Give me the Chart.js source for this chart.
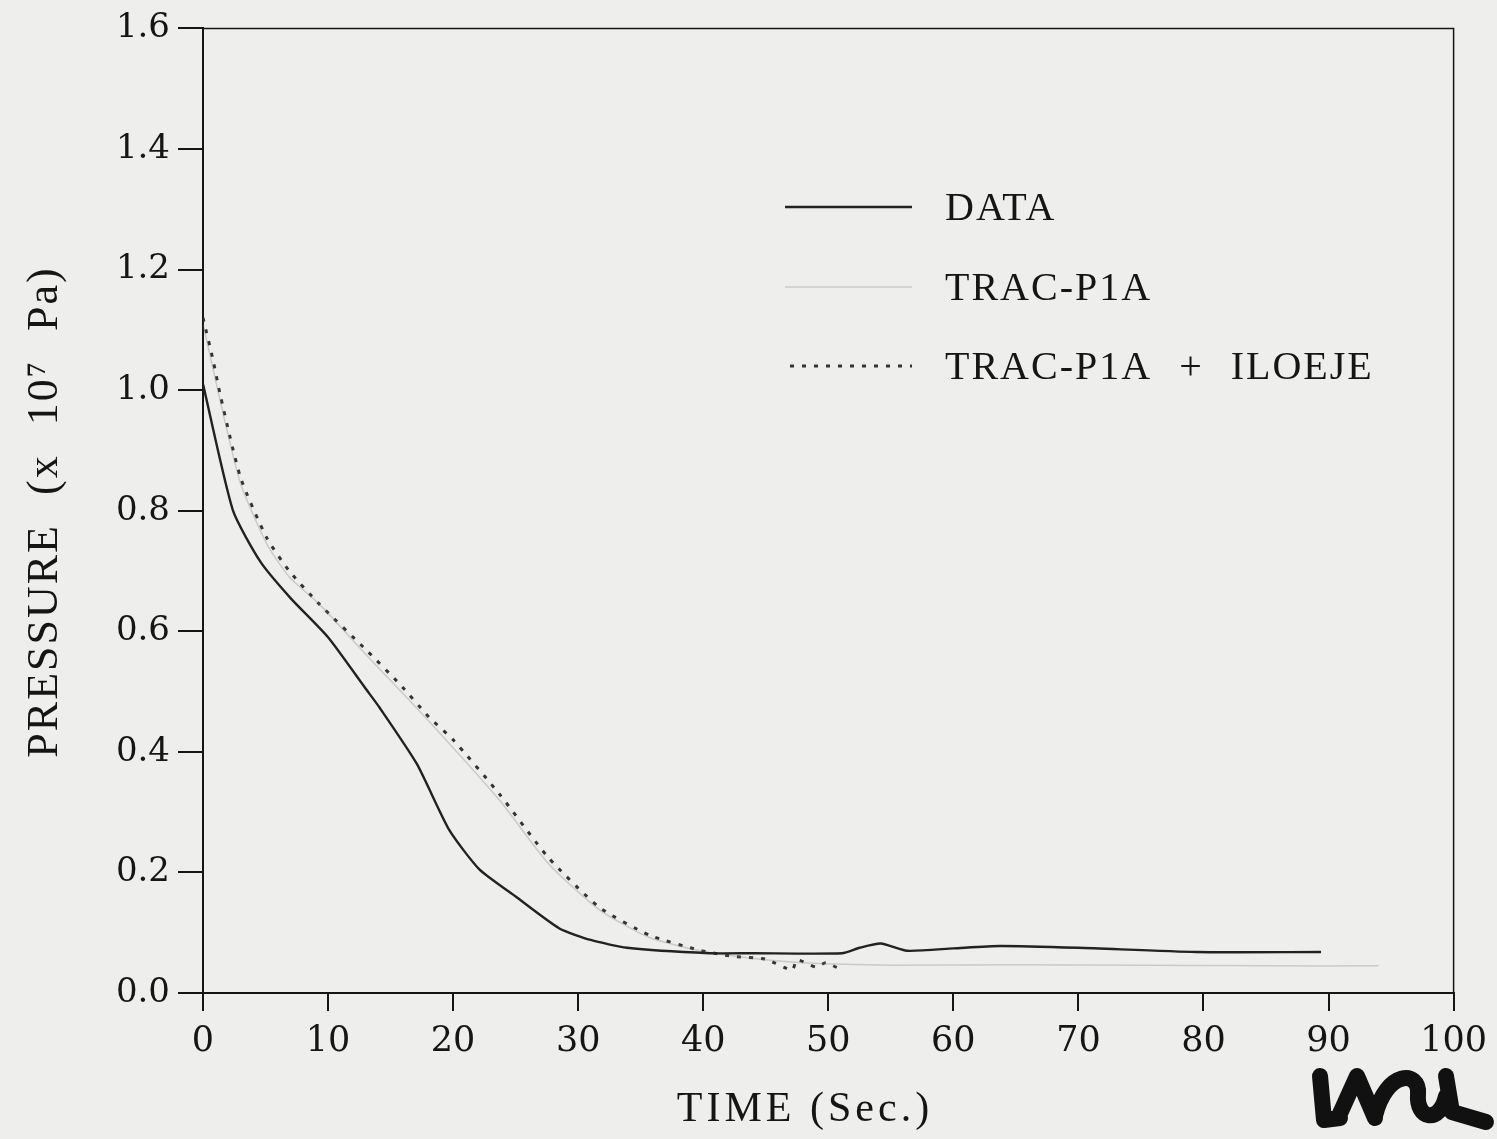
<!DOCTYPE html>
<html>
<head>
<meta charset="utf-8">
<script src="https://cdn.jsdelivr.net/npm/chart.js@4/dist/chart.umd.min.js"></script>
<style>
  html, body { margin: 0; padding: 0; background: #eeeeec; }
  #wrap { width: 1497px; height: 1139px; }
</style>
</head>
<body>
<div id="wrap"><canvas id="c" width="1497" height="1139"></canvas></div>
<script>
// Pressure vs time, blowdown comparison

// DATA (measured)
const dataTime = [0, 2.4, 4.6, 7, 10, 13, 14.1, 17.1, 19.7, 22.1, 25, 28.5, 31, 33.9, 40.5, 44, 51.1, 52.5, 54.2, 56.3, 60, 63.7, 70, 79.4, 89.4];
const dataPress = [1.01, 0.80, 0.715, 0.655, 0.59, 0.505, 0.474, 0.38, 0.27, 0.205, 0.16, 0.107, 0.088, 0.075, 0.066, 0.066, 0.066, 0.075, 0.082, 0.07, 0.074, 0.078, 0.075, 0.068, 0.068];

// TRAC-P1A (faint trace)
const p1aTime = [0, 1.4, 3, 5.1, 6.9, 9.3, 13.1, 18.1, 23.7, 27.6, 31.7, 35.7, 39.7, 43.7, 48, 55, 65, 75, 85, 94];
const p1aPress = [1.11, 0.98, 0.845, 0.745, 0.69, 0.645, 0.56, 0.45, 0.32, 0.215, 0.138, 0.092, 0.07, 0.058, 0.05, 0.046, 0.047, 0.046, 0.045, 0.045];

// TRAC-P1A + ILOEJE (dotted)
const ilTime = [0, 0.8, 1.4, 3, 5.1, 6.9, 9.3, 13.1, 15.7, 18.1, 20, 23.7, 27.6, 31.7, 35.7, 39.7, 42.3, 45, 47.1, 47.5, 49, 49.8, 50.9];
const ilPress = [1.12, 1.05, 0.99, 0.855, 0.755, 0.70, 0.645, 0.568, 0.513, 0.457, 0.42, 0.33, 0.225, 0.142, 0.096, 0.071, 0.061, 0.056, 0.038, 0.055, 0.043, 0.05, 0.04];

const seriesNames = ['DATA', 'TRAC-P1A', 'TRAC-P1A + ILOEJE'];
const xTicks = [0, 10, 20, 30, 40, 50, 60, 70, 80, 90, 100];
const yTicks = [0, 0.2, 0.4, 0.6, 0.8, 1.0, 1.2, 1.4, 1.6];

const ink = '#151515';
const serif = '"DejaVu Serif", "Liberation Serif", serif';
const roman = '"Liberation Serif", "Times New Roman", serif';

function pts(t, p) { return t.map((x, i) => ({ x, y: p[i] })); }

// box, legend, titles and logo
const decor = {
  id: 'decor',
  afterDraw(chart) {
    const ctx = chart.ctx;
    const a = chart.chartArea;
    ctx.save();
    ctx.strokeStyle = ink;
    ctx.lineWidth = 1.5;
    ctx.beginPath();
    ctx.moveTo(a.left, a.top); ctx.lineTo(a.right, a.top); ctx.lineTo(a.right, a.bottom);
    ctx.stroke();

    // legend
    const rows = [207, 287, 366];
    chart.data.datasets.forEach((ds, i) => {
      ctx.strokeStyle = ds.borderColor;
      ctx.lineWidth = ds.borderWidth;
      ctx.setLineDash(ds.borderDash || []);
      ctx.beginPath();
      ctx.moveTo(i === 2 ? 790 : 785, rows[i]);
      ctx.lineTo(912, rows[i]);
      ctx.stroke();
      ctx.setLineDash([]);
      ctx.fillStyle = ink;
      ctx.font = '40px ' + roman;
      ctx.letterSpacing = '2px';
      ctx.wordSpacing = '15px';
      ctx.textAlign = 'left';
      ctx.textBaseline = 'middle';
      ctx.fillText(ds.label, 945, rows[i] + 2);
    });

    // axis titles
    ctx.letterSpacing = '4px';
    ctx.wordSpacing = '0px';
    ctx.font = '42px ' + roman;
    ctx.textAlign = 'center';
    ctx.textBaseline = 'middle';
    ctx.fillText('TIME (Sec.)', 805, 1110);
    ctx.translate(45, 512);
    ctx.rotate(-Math.PI / 2);
    ctx.font = '44px ' + roman;
    ctx.letterSpacing = '2px';
    ctx.wordSpacing = '16px';
    ctx.fillText('PRESSURE (x 10\u2077 Pa)', 0, 0);
    ctx.restore();

    // LASL logo
    ctx.save();
    ctx.strokeStyle = '#111';
    ctx.lineWidth = 16;
    ctx.lineCap = 'round';
    ctx.lineJoin = 'round';
    ctx.beginPath();
    ctx.moveTo(1320, 1076); ctx.lineTo(1324, 1120); ctx.lineTo(1340, 1118);
    ctx.moveTo(1338, 1118); ctx.lineTo(1357, 1076); ctx.lineTo(1375, 1118);
    ctx.moveTo(1375, 1116); ctx.bezierCurveTo(1386, 1070, 1420, 1070, 1418, 1094);
    ctx.bezierCurveTo(1416, 1120, 1440, 1124, 1446, 1096);
    ctx.moveTo(1446, 1076); ctx.lineTo(1452, 1112); ctx.lineTo(1486, 1122);
    ctx.stroke();
    ctx.restore();
  }
};

new Chart(document.getElementById('c'), {
  type: 'line',
  data: {
    datasets: [
      {
        label: seriesNames[0],
        data: pts(dataTime, dataPress),
        borderColor: '#222',
        borderWidth: 2.4,
        pointRadius: 0,
        tension: 0.2,
      },
      {
        label: seriesNames[1],
        data: pts(p1aTime, p1aPress),
        borderColor: 'rgba(120,120,120,0.3)',
        borderWidth: 1.5,
        pointRadius: 0,
        tension: 0.2,
      },
      {
        label: seriesNames[2],
        data: pts(ilTime, ilPress),
        borderColor: '#333',
        borderWidth: 3,
        borderDash: [4, 8],
        pointRadius: 0,
        tension: 0.2,
      },
    ]
  },
  options: {
    responsive: false,
    animation: false,
    layout: { padding: { top: 27, right: 42, left: 0, bottom: 0 } },
    plugins: { legend: { display: false }, tooltip: { enabled: false } },
    scales: {
      x: {
        type: 'linear',
        min: 0,
        max: 100,
        afterFit: s => { s.height = 146; },
        afterBuildTicks: s => { s.ticks = xTicks.map(v => ({ value: v })); },
        ticks: { color: ink, font: { family: serif, size: 35 }, padding: 10, maxRotation: 0 },
        grid: { drawOnChartArea: false, tickLength: 18, color: ink, lineWidth: 2 },
        border: { color: ink, width: 2 },
      },
      y: {
        min: 0,
        max: 1.6,
        afterFit: s => { s.width = 203; },
        afterBuildTicks: s => { s.ticks = yTicks.map(v => ({ value: v })); },
        ticks: { color: ink, font: { family: serif, size: 34 }, padding: 8, callback: v => v.toFixed(1) },
        grid: { drawOnChartArea: false, tickLength: 25, color: ink, lineWidth: 2 },
        border: { color: ink, width: 2 },
      }
    }
  },
  plugins: [decor]
});
</script>
</body>
</html>
